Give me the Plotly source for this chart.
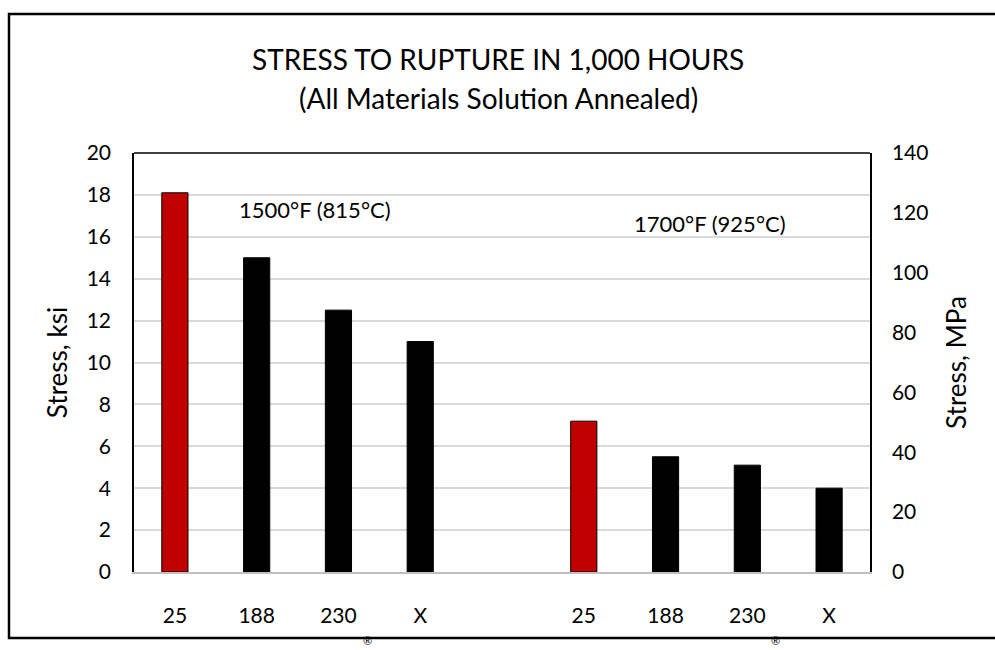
import plotly.graph_objects as go

# ---- data ----
categories = ["25", "188", "230", "X", "", "25", "188", "230", "X"]
stress_ksi = [18.1, 15.0, 12.5, 11.0, None, 7.2, 5.5, 5.1, 4.0]
bar_colors = ["#C00000", "#000000", "#000000", "#000000", "#000000",
              "#C00000", "#000000", "#000000", "#000000"]
ksi_ticks = [0, 2, 4, 6, 8, 10, 12, 14, 16, 18, 20]
mpa_ticks = [0, 20, 40, 60, 80, 100, 120, 140]
temp_labels = ["1500°F (815°C)", "1700°F (925°C)"]

W, H = 995, 650
FONT = "Lato, Calibri, Carlito, sans-serif"

xpos = list(range(len(categories)))

fig = go.Figure()
fig.add_trace(go.Bar(
    x=xpos, y=stress_ksi,
    marker=dict(color=bar_colors, line=dict(color="#000000", width=1)),
    width=0.32, showlegend=False, hoverinfo="skip",
))
# invisible trace for secondary axis
fig.add_trace(go.Scatter(x=[0], y=[0], yaxis="y2", mode="markers",
                         marker=dict(opacity=0), showlegend=False, hoverinfo="skip"))

xl, xr = 134 / W, 870 / W
yb, yt = 1 - 572 / H, 1 - 153 / H

fig.update_layout(
    width=W, height=H,
    margin=dict(l=0, r=0, t=0, b=0, autoexpand=False),
    paper_bgcolor="white", plot_bgcolor="white",
    font=dict(family=FONT, size=21, color="#000000"),
    xaxis=dict(
        domain=[xl, xr], range=[-0.5, len(categories) - 0.5],
        tickvals=[i for i, c in enumerate(categories) if c],
        ticktext=[c for c in categories if c],
        showgrid=False, zeroline=False, automargin=False,
        showline=True, linecolor="#BFBFBF", linewidth=1.5,
        ticks="", ticklabelstandoff=24, tickfont=dict(size=21),
        fixedrange=True,
    ),
    yaxis=dict(
        domain=[yb, yt], range=[0, 20], tickvals=ksi_ticks,
        showgrid=True, gridcolor="#D9D9D9", gridwidth=1.5, zeroline=False,
        automargin=False,
        showline=True, linecolor="#000000", linewidth=1.5,
        ticks="", ticklabelstandoff=17, tickfont=dict(size=21),
        title=dict(text="Stress, ksi", font=dict(size=26), standoff=12),
        fixedrange=True,
    ),
    yaxis2=dict(
        overlaying="y", side="right", anchor="x",
        range=[0, 140], tickvals=mpa_ticks, automargin=False,
        showgrid=False, zeroline=False,
        showline=True, linecolor="#000000", linewidth=1.5,
        ticks="", ticklabelstandoff=16, tickfont=dict(size=21),
        title=dict(text="Stress, MPa", font=dict(size=26), standoff=20),
        fixedrange=True,
    ),
)

# top border of plot area
fig.add_shape(type="line", xref="paper", yref="paper",
              x0=xl, x1=xr, y0=yt, y1=yt, line=dict(color="#000000", width=1.5))
# outer chart border
fig.add_shape(type="rect", xref="paper", yref="paper",
              x0=9 / W, x1=1.02, y0=1 - 638 / H, y1=1 - 14 / H,
              line=dict(color="#000000", width=2.5), layer="below")

# titles
fig.add_annotation(text="STRESS TO RUPTURE IN 1,000 HOURS", xref="paper", yref="paper",
                   x=498 / W, y=1 - 59 / H, showarrow=False, font=dict(size=28),
                   xanchor="center", yanchor="middle")
fig.add_annotation(text="(All Materials Solution Annealed)", xref="paper", yref="paper",
                   x=498 / W, y=1 - 98 / H, showarrow=False, font=dict(size=28),
                   xanchor="center", yanchor="middle")

# temperature labels
fig.add_annotation(text=temp_labels[0], xref="paper", yref="paper",
                   x=237 / W, y=1 - 209 / H, showarrow=False, font=dict(size=22),
                   xanchor="left", yanchor="middle")
fig.add_annotation(text=temp_labels[1], xref="paper", yref="paper",
                   x=632 / W, y=1 - 223 / H, showarrow=False, font=dict(size=22),
                   xanchor="left", yanchor="middle")

# registered marks at bottom
for xp in (367, 775):
    fig.add_annotation(text="®", xref="paper", yref="paper",
                       x=xp / W, y=1 - 649 / H, showarrow=False, font=dict(size=11),
                       xanchor="center", yanchor="bottom")

fig.write_html("out.html", config={"displayModeBar": False},
               post_script="document.body.style.margin='0';document.body.style.overflow='hidden';")
